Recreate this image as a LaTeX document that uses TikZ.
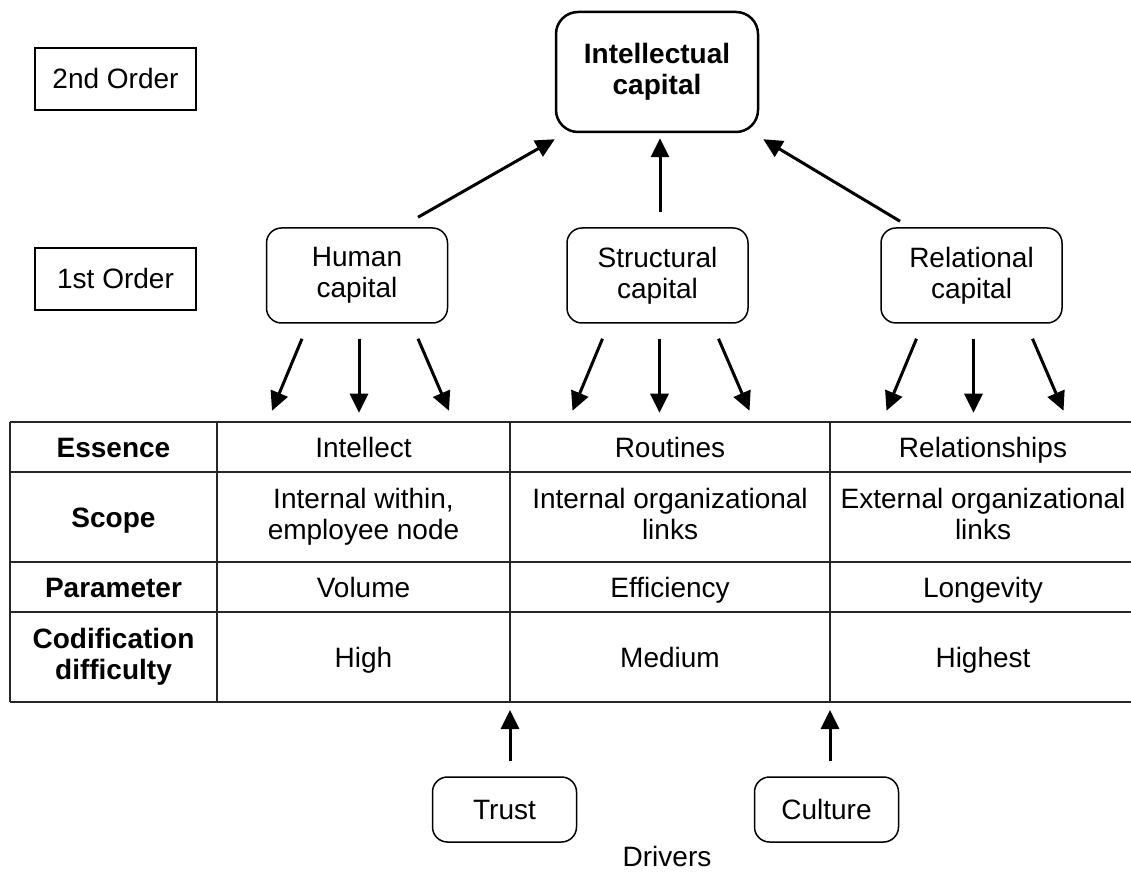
\documentclass[tikz,border=0pt]{standalone}
\usepackage{fontspec}
\setmainfont{Liberation Sans}
\usetikzlibrary{arrows.meta}

% Even strut so caps sit in the middle of a cell
\newcommand{\cellstrut}{\rule[-6pt]{0pt}{32pt}}

\begin{document}
\begin{tikzpicture}[x=1pt, y=1pt,
  font=\fontsize{28}{31}\selectfont,
  every node/.append style={execute at begin node=\cellstrut, execute at end node=\cellstrut},
  orderbox/.style={draw, line width=1.5pt, minimum width=161pt, minimum height=62pt, inner sep=0pt},
  capbox/.style={draw, line width=1.5pt, rounded corners=15pt, minimum width=181pt, minimum height=95pt, align=center, inner sep=0pt},
  topbox/.style={draw, line width=2.5pt, rounded corners=22pt, minimum width=202pt, minimum height=120pt, align=center, inner sep=0pt, font=\fontsize{28}{31}\selectfont\bfseries},
  driverbox/.style={draw, line width=1.5pt, rounded corners=15pt, minimum width=144pt, minimum height=65pt, inner sep=0pt},
  arr/.style={line width=3pt, -{Triangle[length=19pt,width=18pt]}},
  grid/.style={line width=1.6pt, black!85},
  cell/.style={align=center, inner sep=0pt},
  head/.style={cell, font=\fontsize{28}{31}\selectfont\bfseries}]

% Page frame
\useasboundingbox (0,0) rectangle (1131,871);

% Order labels
\node[orderbox] (ord2) at (115.5,792) {2nd Order};
\node[orderbox] (ord1) at (115.5,592) {1st Order};

% Second order
\node[topbox] (ic) at (657,799) {Intellectual\\capital};

% First order
\node[capbox] (hc) at (357,595.5) {Human\\capital};
\node[capbox] (sc) at (657.5,595.5) {Structural\\capital};
\node[capbox] (rc) at (971.5,595.5) {Relational\\capital};

% Arrows up to intellectual capital
\draw[arr] ([shift={(61pt,10pt)}]hc.north) -- ([yshift=-6pt]ic.south west);
\draw[arr] ([shift={(2.5pt,15pt)}]sc.north) -- ([shift={(3pt,-5pt)}]ic.south);
\draw[arr] ([shift={(-71.5pt,6pt)}]rc.north) -- ([shift={(4pt,-6pt)}]ic.south east);

% Arrows down to the table
\foreach \n in {hc,sc,rc} {
  \draw[arr] ([shift={(-55pt,-15pt)}]\n.south) -- ([shift={(-85pt,-87pt)}]\n.south);
  \draw[arr] ([shift={(2pt,-15pt)}]\n.south) -- ([shift={(2pt,-89pt)}]\n.south);
  \draw[arr] ([shift={(61pt,-15pt)}]\n.south) -- ([shift={(92pt,-87pt)}]\n.south);
}

% Table grid
\foreach \y in {449,399,309,259,169}
  \draw[grid] (10,\y) -- (1131,\y);
\foreach \x in {10,217,510,830}
  \draw[grid] (\x,449) -- (\x,169);

% Row heads
\node[head] (essence) at (113.5,424) {Essence};
\node[head] (scope) at (113.5,354) {Scope};
\node[head] (param) at (113.5,284) {Parameter};
\node[head] (codif) at (113.5,214) {Codification\\difficulty};

% Human capital column
\node[cell] (hc1) at (363.5,424) {Intellect};
\node[cell] (hc2) at (363.5,354) {Internal within,\\employee node};
\node[cell] (hc3) at (363.5,284) {Volume};
\node[cell] (hc4) at (363.5,214) {High};

% Structural capital column
\node[cell] (sc1) at (670,424) {Routines};
\node[cell] (sc2) at (670,354) {Internal organizational\\links};
\node[cell] (sc3) at (670,284) {Efficiency};
\node[cell] (sc4) at (670,214) {Medium};

% Relational capital column
\node[cell] (rc1) at (983,424) {Relationships};
\node[cell] (rc2) at (983,354) {External organizational\\links};
\node[cell] (rc3) at (983,284) {Longevity};
\node[cell] (rc4) at (983,214) {Highest};

% Drivers
\node[driverbox] (trust) at (504.5,61.5) {Trust};
\node[driverbox] (culture) at (826.5,61.5) {Culture};
\node[anchor=base, inner sep=0pt] (drivers) at (667,5) {Drivers};

\coordinate (foot1) at (510,169);
\coordinate (foot2) at (830,169);
\draw[arr] ([shift={(5.5pt,15pt)}]trust.north) -- ([yshift=-8pt]foot1);
\draw[arr] ([shift={(3.5pt,15pt)}]culture.north) -- ([yshift=-8pt]foot2);

\end{tikzpicture}
\end{document}
